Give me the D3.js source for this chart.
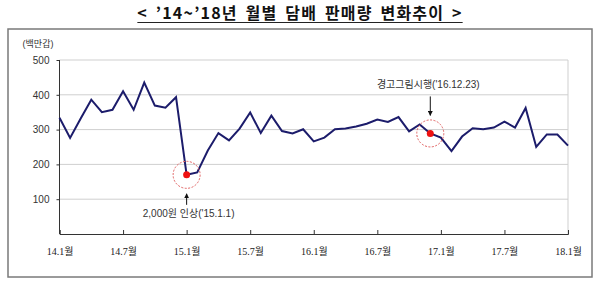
<!DOCTYPE html>
<html>
<head>
  <meta charset="utf-8">
  <script src="https://d3js.org/d3.v7.min.js"></script>
  <style type="text/css">
    body { margin: 0; background: #fff; }
    .title { font-family: "Noto Sans CJK KR", sans-serif; font-weight: bold; font-size: 16px; fill: #111; letter-spacing: 1.2px; word-spacing: 3px; }
    .tick-label { font-family: "Liberation Serif", "Noto Sans CJK KR", serif; font-size: 10px; fill: #222; }
    .y-label { font-family: "Liberation Sans", "Noto Sans CJK KR", sans-serif; font-size: 10px; fill: #333; }
    .note { font-family: "Liberation Sans", "Noto Sans CJK KR", sans-serif; font-size: 10px; fill: #333; }
  </style>
</head>
<body>
<script type="text/javascript">
  // monthly sales, 14.1 .. 18.1 (million packs)
  var sales = [334, 276, 332, 386, 350, 357, 410, 357, 435, 369, 363, 393,
               170, 177, 240, 290, 269, 303, 349, 290, 340, 296, 289, 301,
               266, 277, 301, 303, 309, 317, 329, 322, 336, 295, 315, 289,
               277, 238, 280, 304, 301, 306, 323, 306, 362, 250, 286, 286,
               254];
  var xTickIndex = [0, 6, 12, 18, 24, 30, 36, 42, 48];
  var xTickLabels = ["14.1월", "14.7월", "15.1월", "15.7월", "16.1월", "16.7월", "17.1월", "17.7월", "18.1월"];
  var yTicks = [100, 200, 300, 400, 500];
  var notes = [
    {idx: 12, text: "2,000원 인상('15.1.1)", below: true},
    {idx: 35, text: "경고그림시행('16.12.23)", below: false}
  ];

  function draw() {
    var W = 600, H = 291;
    var pLeft = 59.5, pRight = 568, pTop = 60, pBottom = 234;

    var svg = d3.select("body").append("svg")
        .attr("width", W).attr("height", H);

    //Title with underline
    var title = svg.append("text")
        .attr("class", "title")
        .attr("x", W / 2).attr("y", 19)
        .attr("text-anchor", "middle")
        .text("< ’14~’18년 월별 담배 판매량 변화추이 >");
    var tb = title.node().getBBox();
    svg.append("line")
        .attr("x1", tb.x).attr("x2", tb.x + tb.width)
        .attr("y1", 22.5).attr("y2", 22.5)
        .attr("stroke", "#222").attr("stroke-width", 1);

    //Outer frame
    svg.append("rect")
        .attr("x", 8).attr("y", 29).attr("width", 584).attr("height", 248)
        .attr("fill", "none").attr("stroke", "#7a7a7a").attr("stroke-width", 1.5);

    var x = d3.scaleLinear().domain([0, 48]).range([pLeft, pRight]);
    var y = d3.scaleLinear().domain([0, 500]).range([pBottom, pTop]);

    //Gridlines
    svg.selectAll(".grid").data(yTicks).enter().append("line")
        .attr("x1", pLeft).attr("x2", pRight)
        .attr("y1", function(d) { return y(d); })
        .attr("y2", function(d) { return y(d); })
        .attr("stroke", "#cfcfcf").attr("stroke-width", 1);
    svg.append("line")
        .attr("x1", pRight).attr("x2", pRight).attr("y1", pTop).attr("y2", pBottom)
        .attr("stroke", "#cfcfcf").attr("stroke-width", 1);

    //Y axis
    var yAxis = svg.append("g")
        .attr("transform", "translate(" + pLeft + ",0)")
        .call(d3.axisLeft(y).tickValues(yTicks).tickSize(3).tickPadding(7));
    yAxis.select(".domain").attr("d", "M0," + pTop + "V" + pBottom).attr("stroke", "#333");
    yAxis.selectAll(".tick line").attr("stroke", "#333");
    yAxis.selectAll("text").attr("class", "y-label").attr("font-family", null).attr("font-size", null);

    svg.append("text")
        .attr("class", "y-label")
        .attr("x", 38).attr("y", 47)
        .attr("text-anchor", "middle")
        .style("font-size", "9px")
        .text("(백만갑)");

    //X axis
    var xAxis = svg.append("g")
        .attr("transform", "translate(0," + pBottom + ")")
        .call(d3.axisBottom(x).tickValues(xTickIndex).tickSize(-4)
          .tickFormat(function(d, i) { return xTickLabels[i]; }).tickPadding(14));
    xAxis.select(".domain").attr("stroke", "#333");
    xAxis.selectAll(".tick line").attr("stroke", "#333");
    xAxis.selectAll("text").attr("class", "tick-label").attr("font-family", null).attr("font-size", null);

    //Line
    var line = d3.line()
        .x(function(d, i) { return x(i); })
        .y(function(d) { return y(d); });
    svg.append("path")
        .datum(sales)
        .attr("d", line)
        .attr("fill", "none")
        .attr("stroke", "#1c1c6b")
        .attr("stroke-width", 2)
        .attr("stroke-linejoin", "miter");

    //Arrow marker
    svg.append("defs").append("marker")
        .attr("id", "arr")
        .attr("viewBox", "0 0 10 10")
        .attr("refX", 9).attr("refY", 5)
        .attr("markerWidth", 5).attr("markerHeight", 5)
        .attr("orient", "auto-start-reverse")
        .append("path").attr("d", "M0,0L10,5L0,10Z").attr("fill", "#111");

    //Annotations
    notes.forEach(function(n) {
      var cx = x(n.idx), cy = y(sales[n.idx]);
      svg.append("circle")
          .attr("cx", cx).attr("cy", cy).attr("r", 13.5)
          .attr("fill", "none").attr("stroke", "#e06060")
          .attr("stroke-width", 1).attr("stroke-dasharray", "2,1.5");
      svg.append("circle")
          .attr("cx", cx).attr("cy", cy).attr("r", 3.5)
          .attr("fill", "#ee1111");
      if (n.below) {
        svg.append("line")
            .attr("x1", cx).attr("x2", cx)
            .attr("y1", cy + 30).attr("y2", cy + 19)
            .attr("stroke", "#111").attr("stroke-width", 1)
            .attr("marker-end", "url(#arr)");
        svg.append("text").attr("class", "note")
            .attr("x", cx + 2).attr("y", cy + 42)
            .attr("text-anchor", "middle").text(n.text);
      } else {
        svg.append("line")
            .attr("x1", cx).attr("x2", cx)
            .attr("y1", cy - 37).attr("y2", cy - 18)
            .attr("stroke", "#111").attr("stroke-width", 1)
            .attr("marker-end", "url(#arr)");
        svg.append("text").attr("class", "note")
            .attr("x", cx - 2).attr("y", cy - 45)
            .attr("text-anchor", "middle").text(n.text);
      }
    });
  }

  draw();
</script>
</body>
</html>
